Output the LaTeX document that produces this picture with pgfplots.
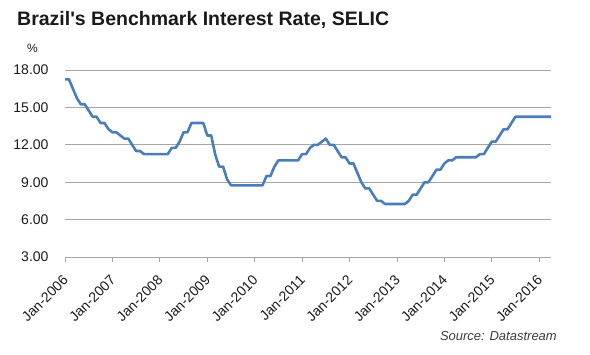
\documentclass[border=0pt]{standalone}
\usepackage{pgfplots}
\pgfplotsset{compat=1.18}
\usepackage{fontspec}
\setmainfont{Liberation Sans}
\definecolor{selic}{HTML}{4A7EBB}
\definecolor{gridc}{HTML}{A6A6A6}
\definecolor{txt}{HTML}{1A1A1A}
\begin{document}
\begin{tikzpicture}[x=1bp,y=1bp]
\path[use as bounding box] (0,0) rectangle (590,354);
\begin{axis}[
  at={(65bp,97bp)}, anchor=south west,
  scale only axis, width=486bp, height=187bp,
  xmin=0, xmax=123, ymin=3, ymax=18,
  axis x line*=bottom, axis y line*=left,
  y axis line style={draw=none},
  x axis line style={draw=gridc, line width=0.8bp},
  ytick={3,6,9,12,15,18},
  ytick style={draw=none},
  xtick={0,12,24,36,48,60,72,84,96,108,120},
  xticklabels={Jan-2006,Jan-2007,Jan-2008,Jan-2009,Jan-2010,Jan-2011,Jan-2012,Jan-2013,Jan-2014,Jan-2015,Jan-2016},
  tick align=outside, major tick length=5bp,
  xtick style={draw=gridc, line width=0.8bp},
  ymajorgrids, grid style={draw=gridc, line width=0.8bp},
  /pgf/number format/assume math mode=true,
  yticklabel style={/pgf/number format/fixed, /pgf/number format/precision=2, /pgf/number format/fixed zerofill, font=\fontsize{14bp}{16bp}\selectfont, text=txt, xshift=-8bp},
  scaled y ticks=false,
  xticklabel style={yshift=-12bp, xshift=-3bp, rotate=45, anchor=north east, font=\fontsize{14bp}{16bp}\selectfont, text=txt, inner sep=0bp},
  clip=false,
]
\addplot[color=selic, line width=2.6bp, line join=round] table[row sep=\\] {
x y\\
0 17.25\\ 1 17.25\\ 2 16.50\\ 3 15.75\\ 4 15.25\\ 5 15.25\\ 6 14.75\\ 7 14.25\\ 8 14.25\\ 9 13.75\\ 10 13.75\\ 11 13.25\\
12 13.00\\ 13 13.00\\ 14 12.75\\ 15 12.50\\ 16 12.50\\ 17 12.00\\ 18 11.50\\ 19 11.50\\ 20 11.25\\ 21 11.25\\ 22 11.25\\ 23 11.25\\
24 11.25\\ 25 11.25\\ 26 11.25\\ 27 11.75\\ 28 11.75\\ 29 12.25\\ 30 13.00\\ 31 13.00\\ 32 13.75\\ 33 13.75\\ 34 13.75\\ 35 13.75\\
36 12.75\\ 37 12.75\\ 38 11.25\\ 39 10.25\\ 40 10.25\\ 41 9.25\\ 42 8.75\\ 43 8.75\\ 44 8.75\\ 45 8.75\\ 46 8.75\\ 47 8.75\\
48 8.75\\ 49 8.75\\ 50 8.75\\ 51 9.50\\ 52 9.50\\ 53 10.25\\ 54 10.75\\ 55 10.75\\ 56 10.75\\ 57 10.75\\ 58 10.75\\ 59 10.75\\
60 11.25\\ 61 11.25\\ 62 11.75\\ 63 12.00\\ 64 12.00\\ 65 12.25\\ 66 12.50\\ 67 12.00\\ 68 12.00\\ 69 11.50\\ 70 11.00\\ 71 11.00\\
72 10.50\\ 73 10.50\\ 74 9.75\\ 75 9.00\\ 76 8.50\\ 77 8.50\\ 78 8.00\\ 79 7.50\\ 80 7.50\\ 81 7.25\\ 82 7.25\\ 83 7.25\\
84 7.25\\ 85 7.25\\ 86 7.25\\ 87 7.50\\ 88 8.00\\ 89 8.00\\ 90 8.50\\ 91 9.00\\ 92 9.00\\ 93 9.50\\ 94 10.00\\ 95 10.00\\
96 10.50\\ 97 10.75\\ 98 10.75\\ 99 11.00\\ 100 11.00\\ 101 11.00\\ 102 11.00\\ 103 11.00\\ 104 11.00\\ 105 11.25\\ 106 11.25\\ 107 11.75\\
108 12.25\\ 109 12.25\\ 110 12.75\\ 111 13.25\\ 112 13.25\\ 113 13.75\\ 114 14.25\\ 115 14.25\\ 116 14.25\\ 117 14.25\\ 118 14.25\\ 119 14.25\\
120 14.25\\ 121 14.25\\ 122 14.25\\ 123 14.25\\
};
\end{axis}
\node[anchor=base west, inner sep=0, font=\fontsize{19.5bp}{22bp}\selectfont\bfseries, text=txt] at (17,329) {Brazil\textquotesingle s Benchmark Interest Rate, SELIC};
\node[inner sep=0, font=\fontsize{12bp}{14bp}\selectfont, text=txt] at (32.5,306) {\%};
\node[anchor=base east, inner sep=0, font=\fontsize{13bp}{15bp}\selectfont\itshape, text=txt!85] at (557,14) {Source: Datastream};
\end{tikzpicture}
\end{document}
